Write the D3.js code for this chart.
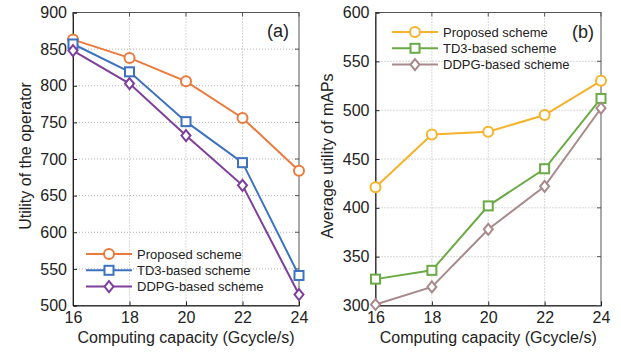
<!DOCTYPE html>
<html><head><meta charset="utf-8">
<script src="https://cdn.jsdelivr.net/npm/d3@7"></script>
<style>body{margin:0;background:#fff}svg{display:block;font-family:"Liberation Sans",Arial,sans-serif}</style>
</head><body><svg id="c" width="621" height="353"></svg>
<script>
const capacity = [16, 18, 20, 22, 24];
const seriesNames = ["Proposed scheme", "TD3-based scheme", "DDPG-based scheme"];
const operatorProposed = [863, 838, 806, 756, 684];
const operatorTD3 = [857, 819, 751, 695, 541];
const operatorDDPG = [848, 803, 732, 664, 515];
const mapProposed = [421, 475, 478, 495, 530];
const mapTD3 = [327, 336, 402, 440, 512];
const mapDDPG = [301, 319, 378, 422, 502];
const yTicksA = [500, 550, 600, 650, 700, 750, 800, 850, 900];
const yTicksB = [300, 350, 400, 450, 500, 550, 600];

const svg = d3.select("#c");
const markers = ["circle", "square", "diamond"];

function drawPanel(cfg) {
  const {x0, x1, y0, y1, domain, ticks, series, colors, ytitle, label, legend, labelPos} = cfg;
  const x = d3.scaleLinear().domain([16, 24]).range([x0, x1]);
  const y = d3.scaleLinear().domain(domain).range([y1, y0]);
  const g = svg.append("g");
  g.selectAll(".gx").data(capacity.slice(1, -1)).join("line")
    .attr("x1", d => x(d)).attr("x2", d => x(d)).attr("y1", y0).attr("y2", y1)
    .attr("stroke", "#b0b0b0").attr("stroke-dasharray", "1,2").attr("stroke-width", 1);
  g.selectAll(".gy").data(ticks.slice(1, -1)).join("line")
    .attr("y1", d => y(d)).attr("y2", d => y(d)).attr("x1", x0).attr("x2", x1)
    .attr("stroke", "#b0b0b0").attr("stroke-dasharray", "1,2").attr("stroke-width", 1);
  g.append("rect").attr("x", x0).attr("y", y0).attr("width", x1 - x0).attr("height", y1 - y0)
    .attr("fill", "none").attr("stroke", "#555").attr("stroke-width", 1);
  const ax = g.append("g").attr("transform", `translate(0,${y1})`)
    .call(d3.axisBottom(x).tickValues(capacity).tickSize(-4).tickPadding(6));
  const ay = g.append("g").attr("transform", `translate(${x0},0)`)
    .call(d3.axisLeft(y).tickValues(ticks).tickSize(-4).tickPadding(6));
  [ax, ay].forEach(a => {
    a.select(".domain").attr("stroke", "#222");
    a.selectAll(".tick line").attr("stroke", "#222");
    a.selectAll("text").attr("font-size", 16).attr("fill", "#222")
      .attr("font-family", '"Liberation Sans",Arial,sans-serif');
  });
  g.selectAll(".tt").data(capacity).join("line")
    .attr("x1", d => x(d)).attr("x2", d => x(d)).attr("y1", y0).attr("y2", y0 + 4).attr("stroke", "#555");
  g.selectAll(".rt").data(ticks).join("line")
    .attr("y1", d => y(d)).attr("y2", d => y(d)).attr("x1", x1).attr("x2", x1 - 4).attr("stroke", "#555");
  const line = d3.line().x((d, i) => x(capacity[i])).y(d => y(d));
  series.forEach((s, k) => {
    g.append("path").datum(s).attr("d", line).attr("fill", "none")
      .attr("stroke", colors[k]).attr("stroke-width", 2);
    s.forEach((v, i) => drawMarker(g, markers[k], x(capacity[i]), y(v), colors[k]));
  });
  svg.append("text").attr("x", (x0 + x1) / 2).attr("y", 343).attr("text-anchor", "middle")
    .attr("font-size", 16).attr("fill", "#222").text("Computing capacity (Gcycle/s)");
  svg.append("text").attr("transform", `translate(${cfg.ytx},${(y0 + y1) / 2 - 3}) rotate(-90)`)
    .attr("text-anchor", "middle").attr("font-size", 16).attr("fill", "#222").text(ytitle);
  svg.append("text").attr("x", labelPos[0]).attr("y", labelPos[1]).attr("text-anchor", "middle")
    .attr("font-size", 18).attr("fill", "#222").text(label);
  seriesNames.forEach((n, k) => {
    const ly = legend.y + k * 16.3;
    g.append("line").attr("x1", legend.x).attr("x2", legend.x + 46).attr("y1", ly).attr("y2", ly)
      .attr("stroke", colors[k]).attr("stroke-width", 2);
    drawMarker(g, markers[k], legend.x + 23, ly, colors[k]);
    g.append("text").attr("x", legend.x + 51).attr("y", ly + 4.5).attr("font-size", 13)
      .attr("fill", "#222").text(n);
  });
}

function drawMarker(g, type, cx, cy, color) {
  if (type === "circle") {
    g.append("circle").attr("cx", cx).attr("cy", cy).attr("r", 5)
      .attr("fill", "#fff").attr("stroke", color).attr("stroke-width", 2);
  } else if (type === "square") {
    g.append("rect").attr("x", cx - 4.5).attr("y", cy - 4.5).attr("width", 9).attr("height", 9)
      .attr("fill", "#fff").attr("stroke", color).attr("stroke-width", 2);
  } else {
    g.append("path").attr("d", `M${cx},${cy - 5.5}L${cx + 4.5},${cy}L${cx},${cy + 5.5}L${cx - 4.5},${cy}Z`)
      .attr("fill", "#fff").attr("stroke", color).attr("stroke-width", 2);
  }
}

drawPanel({x0: 73, x1: 299, y0: 12.5, y1: 305.5, domain: [500, 900], ticks: yTicksA,
  series: [operatorProposed, operatorTD3, operatorDDPG],
  colors: ["#EB7A3C", "#3D72C0", "#7E3F9C"],
  ytitle: "Utility of the operator", ytx: 31, label: "(a)", labelPos: [278, 37],
  legend: {x: 86, y: 254}});
drawPanel({x0: 375.5, x1: 601, y0: 12.5, y1: 305.5, domain: [300, 600], ticks: yTicksB,
  series: [mapProposed, mapTD3, mapDDPG],
  colors: ["#F5B22A", "#6AAA45", "#A88A8C"],
  ytitle: "Average utility of mAPs", ytx: 333, label: "(b)", labelPos: [583, 38],
  legend: {x: 392, y: 32}});
</script></body></html>
